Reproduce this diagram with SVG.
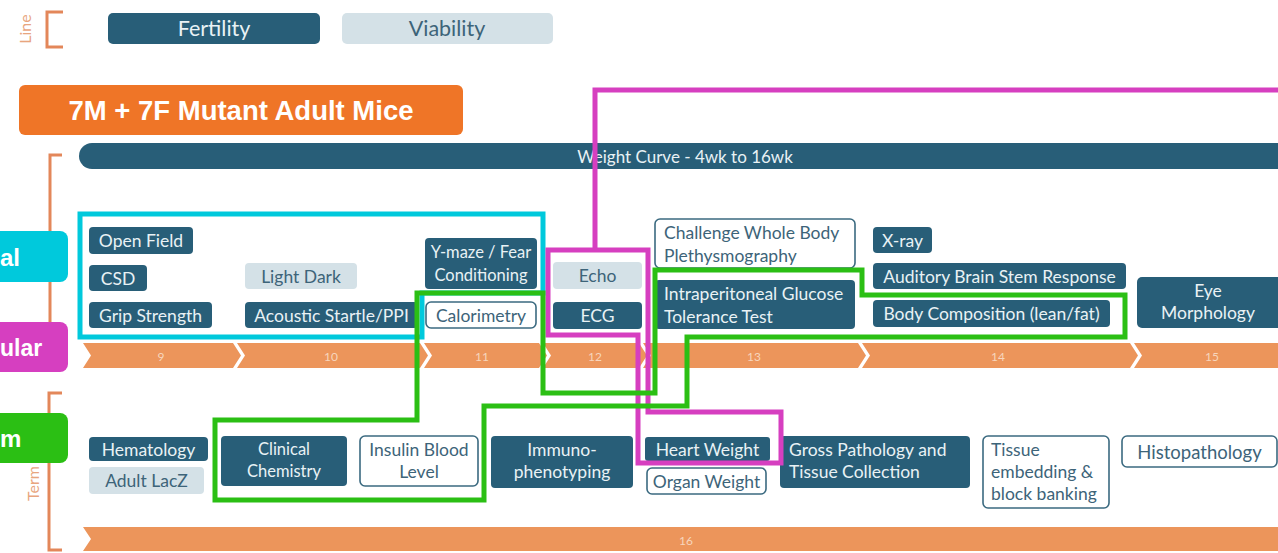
<svg xmlns="http://www.w3.org/2000/svg" width="1278" height="553" viewBox="0 0 1278 553">
  <style>
    .dark rect { fill: #285e78; }
    .light rect { fill: #d4e1e7; }
    .outline rect { fill: #ffffff; stroke: #3b6a80; stroke-width: 1.6; }
    text { font-family: Lato, "Open Sans", sans-serif; font-size: 17.5px; dominant-baseline: central; }
    .dark text { fill: #e9f2f5; }
    .light text, .outline text { fill: #3d6479; }
    .c { text-anchor: middle; }
    .narrow text { font-size: 16.5px; }
    .bracket { fill: none; stroke: #e3875a; stroke-width: 3; }
    .side { font-family: Lato, sans-serif; font-size: 16px; fill: #e8a57e; }
    .chev { fill: #ec955b; }
    .wk { font-family: Lato, sans-serif; font-size: 12px; fill: #f7d6bd; text-anchor: middle; }
    .tag text { font-family: "Liberation Sans", Arial, sans-serif; font-weight: bold; font-size: 24px; fill: #ffffff; dominant-baseline: auto; }
    .ring { fill: none; stroke-width: 5; stroke-linejoin: miter; }
  </style>

  <rect width="1278" height="553" fill="#ffffff"/>

  <!-- line-level tests -->
  <text class="side c" transform="translate(24 29) rotate(-90)">Line</text>
  <path class="bracket" d="M63 12 H47 V47 H63"/>
  <g id="fertility" class="dark"><rect x="108" y="13" width="212" height="31" rx="5"/><text class="c" x="214" y="28" style="font-size:21.5px">Fertility</text></g>
  <g id="viability" class="light"><rect x="342" y="13" width="211" height="31" rx="5"/><text class="c" x="447" y="28" style="font-size:21.5px">Viability</text></g>

  <!-- cohort banner -->
  <g id="cohort">
    <rect x="19" y="85" width="444" height="50" rx="6" fill="#ef7527"/>
    <text x="241" y="120" text-anchor="middle" style="font-family:'Liberation Sans',Arial,sans-serif;font-weight:bold;font-size:27.5px;fill:#ffffff;dominant-baseline:auto">7M + 7F Mutant Adult Mice</text>
  </g>

  <!-- in-life section -->
  <path class="bracket" d="M62 155 H50 V360"/>
  <g id="weight-curve" class="dark">
    <path d="M92 143 H1290 V169 H92 A13 13 0 0 1 79 156 A13 13 0 0 1 92 143 Z" fill="#285e78"/>
    <text class="c" x="685" y="156" style="font-size:17px">Weight Curve - 4wk to 16wk</text>
  </g>

  <g id="open-field" class="dark"><rect x="89" y="227" width="104" height="27" rx="4"/><text class="c" x="141" y="240.5">Open Field</text></g>
  <g id="csd" class="dark"><rect x="89" y="265" width="58" height="26" rx="4"/><text class="c" x="118" y="278">CSD</text></g>
  <g id="grip-strength" class="dark"><rect x="89" y="302" width="123" height="26" rx="4"/><text class="c" x="150.5" y="315">Grip Strength</text></g>
  <g id="light-dark" class="light"><rect x="245" y="263" width="112" height="26" rx="4"/><text class="c" x="301" y="276">Light Dark</text></g>
  <g id="acoustic-startle" class="dark"><rect x="245" y="302" width="173" height="26" rx="4"/><text class="c" x="331.5" y="315">Acoustic Startle/PPI</text></g>
  <g id="y-maze" class="dark narrow"><rect x="425" y="238" width="112" height="51" rx="4"/><text class="c" x="481" y="251.5">Y-maze / Fear</text><text class="c" x="481" y="274.5">Conditioning</text></g>
  <g id="calorimetry" class="outline"><rect x="426" y="302" width="110" height="26" rx="5"/><text class="c" x="481" y="315">Calorimetry</text></g>
  <g id="echo" class="light"><rect x="553" y="262" width="89" height="27" rx="4"/><text class="c" x="597.5" y="275.5">Echo</text></g>
  <g id="ecg" class="dark"><rect x="553" y="302" width="89" height="27" rx="4"/><text class="c" x="597.5" y="315.5">ECG</text></g>
  <g id="plethysmography" class="outline"><rect x="655" y="219" width="200" height="49" rx="5"/><text x="664" y="232.5">Challenge Whole Body</text><text x="664" y="255">Plethysmography</text></g>
  <g id="ipgtt" class="dark"><rect x="655" y="280" width="200" height="49" rx="4"/><text x="664" y="293">Intraperitoneal Glucose</text><text x="664" y="316">Tolerance Test</text></g>
  <g id="x-ray" class="dark"><rect x="873" y="227" width="59" height="26" rx="4"/><text class="c" x="902.5" y="240">X-ray</text></g>
  <g id="abr" class="dark"><rect x="873" y="263" width="253" height="26" rx="4"/><text class="c" x="999.5" y="276">Auditory Brain Stem Response</text></g>
  <g id="body-composition" class="dark"><rect x="873" y="300" width="237" height="27" rx="4"/><text class="c" x="991.5" y="313.5">Body Composition (lean/fat)</text></g>
  <g id="eye-morphology" class="dark"><rect x="1137" y="277" width="150" height="51" rx="5"/><text class="c" x="1208" y="290.5">Eye</text><text class="c" x="1208" y="312.5">Morphology</text></g>

  <!-- week timeline -->
  <g id="weeks">
    <path class="chev" d="M83 343 H233 L241 355.5 L233 368 H83 L91 355.5 Z"/>
    <path class="chev" d="M237 343 H420 L428 355.5 L420 368 H237 L245 355.5 Z"/>
    <path class="chev" d="M424 343 H539 L547 355.5 L539 368 H424 L432 355.5 Z"/>
    <path class="chev" d="M543 343 H639 L647 355.5 L639 368 H543 L551 355.5 Z"/>
    <path class="chev" d="M643 343 H858 L866 355.5 L858 368 H643 L651 355.5 Z"/>
    <path class="chev" d="M862 343 H1130 L1138 355.5 L1130 368 H862 L870 355.5 Z"/>
    <path class="chev" d="M1134 343 H1290 V368 H1134 L1142 355.5 Z"/>
    <text class="wk" x="161" y="356">9</text>
    <text class="wk" x="331" y="356">10</text>
    <text class="wk" x="482" y="356">11</text>
    <text class="wk" x="595" y="356">12</text>
    <text class="wk" x="754" y="356">13</text>
    <text class="wk" x="998" y="356">14</text>
    <text class="wk" x="1212" y="356">15</text>
  </g>

  <!-- terminal section -->
  <path class="bracket" d="M62 393 H49 V550 H62"/>
  <text class="side" transform="translate(39 501) rotate(-90)" style="dominant-baseline:auto">Term</text>

  <g id="hematology" class="dark"><rect x="89" y="437" width="119" height="24" rx="4"/><text class="c" x="148.5" y="449">Hematology</text></g>
  <g id="adult-lacz" class="light"><rect x="89" y="467" width="115" height="27" rx="4"/><text class="c" x="146.5" y="480.5">Adult LacZ</text></g>
  <g id="clinical-chemistry" class="dark narrow"><rect x="221" y="436" width="126" height="50" rx="4"/><text class="c" x="284" y="449">Clinical</text><text class="c" x="284" y="471">Chemistry</text></g>
  <g id="insulin" class="outline"><rect x="360" y="436" width="118" height="50" rx="5"/><text class="c" x="419" y="449">Insulin Blood</text><text class="c" x="419" y="471">Level</text></g>
  <g id="immunophenotyping" class="dark"><rect x="491" y="436" width="142" height="52" rx="4"/><text class="c" x="562" y="449">Immuno-</text><text class="c" x="562" y="471">phenotyping</text></g>
  <g id="heart-weight" class="dark"><rect x="645" y="437" width="125" height="24" rx="3"/><text class="c" x="707.5" y="449">Heart Weight</text></g>
  <g id="organ-weight" class="outline"><rect x="647" y="468" width="119" height="26" rx="5"/><text class="c" x="706.5" y="481">Organ Weight</text></g>
  <g id="gross-pathology" class="dark"><rect x="780" y="436" width="190" height="52" rx="4"/><text x="789" y="449">Gross Pathology and</text><text x="789" y="471">Tissue Collection</text></g>
  <g id="tissue-embedding" class="outline"><rect x="983" y="436" width="126" height="72" rx="5"/><text x="991" y="449">Tissue</text><text x="991" y="471">embedding &amp;</text><text x="991" y="493">block banking</text></g>
  <g id="histopathology" class="outline"><rect x="1122" y="436" width="155" height="31" rx="5"/><text class="c" x="1199.5" y="451.5" style="font-size:18.5px">Histopathology</text></g>

  <g id="week-16">
    <path class="chev" d="M83 527 H1290 V551 H83 L91 539 Z"/>
    <text class="wk" x="686" y="540">16</text>
  </g>

  <!-- panel outlines -->
  <g id="outlines">
    <path class="ring" stroke="#00c9dc" d="M80 214 H543 V293 H422 V337 H80 Z"/>
    <path class="ring" stroke="#d63fc0" d="M1290 90 H595 V250 M548 250 H648 V412 H781 V463 H638 V335 H548 Z"/>
    <path class="ring" stroke="#2bbf14" d="M417 293 H543 V393 H655 V270 H862 V295 H1125 V337 H687 V406 H484 V500 H215 V420 H417 Z"/>
  </g>

  <!-- panel tags -->
  <g id="tag-behaviour" class="tag"><rect x="-10" y="231" width="78" height="51" rx="8" fill="#00c9dc"/><text x="0" y="266">al</text></g>
  <g id="tag-cardio" class="tag"><rect x="-10" y="322" width="78" height="50" rx="8" fill="#d63fc0"/><text x="0" y="356" style="font-size:23px">ular</text></g>
  <g id="tag-metabolism" class="tag"><rect x="-10" y="413" width="78" height="50" rx="8" fill="#2bbf14"/><text x="0" y="447">m</text></g>
</svg>
